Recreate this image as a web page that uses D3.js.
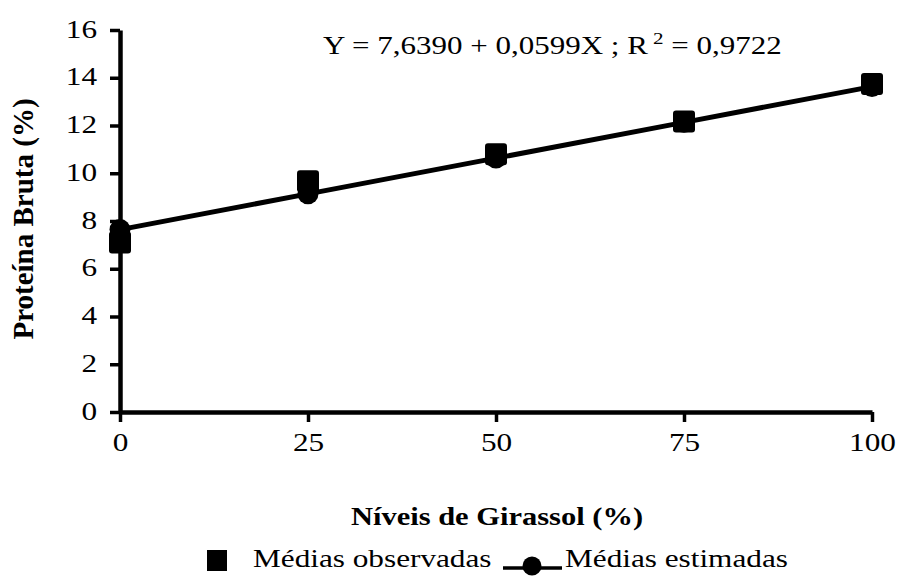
<!DOCTYPE html>
<html>
<head>
<meta charset="utf-8">
<script src="https://cdn.jsdelivr.net/npm/d3@7"></script>
<style>
  body { margin: 0; background: #fff; }
  svg text { font-family: "Liberation Serif", "DejaVu Serif", serif !important; fill: #000; }
</style>
</head>
<body>
<div id="chart"></div>
<script>
// data
var niveis = [0, 25, 50, 75, 100];
var observadas = [7.1, 9.67, 10.8, 12.17, 13.74];
var estimadas = [7.639, 9.137, 10.634, 12.132, 13.629];
var yTicks = [0, 2, 4, 6, 8, 10, 12, 14, 16];
var xTicks = [0, 25, 50, 75, 100];

var width = 900, height = 581;
var sx = 1.25; // the scanned figure is stretched sideways

var svg = d3.select('#chart').append('svg')
    .attr('width', width)
    .attr('height', height);

var x = d3.scaleLinear().domain([0, 100]).range([120, 872]);
var y = d3.scaleLinear().domain([0, 16]).range([412, 30]);

//axes
var yAxis = svg.append('g')
    .attr('transform', 'translate(' + x(0) + ',0)')
    .call(d3.axisLeft(y).tickValues(yTicks).tickSize(10).tickSizeOuter(0));

var xAxis = svg.append('g')
    .attr('transform', 'translate(0,' + y(0) + ')')
    .call(d3.axisBottom(x).tickValues(xTicks).tickSize(10).tickSizeOuter(0).tickPadding(11));

[yAxis, xAxis].forEach(function(a) {
    a.select('.domain').attr('stroke', '#000').attr('stroke-width', 4.5);
    a.selectAll('.tick line').attr('stroke', '#000').attr('stroke-width', 3.5);
    a.selectAll('.tick text')
        .style('font-size', '25px')
        .attr('fill', '#000')
        .attr('transform', 'scale(' + sx + ',1)');
});
// right edge of y labels at about 23px left of the axis
yAxis.selectAll('.tick text').attr('x', -23 / sx).attr('dy', '0.28em');

//regression line
var line = d3.line()
    .x(function(d, i) { return x(niveis[i]); })
    .y(function(d) { return y(d); });

svg.append('path')
    .datum(estimadas)
    .attr('d', line)
    .attr('fill', 'none')
    .attr('stroke', '#000')
    .attr('stroke-width', 5);

svg.selectAll('.est')
    .data(estimadas)
    .enter()
    .append('circle')
    .attr('class', 'est')
    .attr('cx', function(d, i) { return x(niveis[i]); })
    .attr('cy', function(d) { return y(d); })
    .attr('r', 10.5)
    .attr('fill', '#000');

var sq = 22;
svg.selectAll('.obs')
    .data(observadas)
    .enter()
    .append('rect')
    .attr('class', 'obs')
    .attr('x', function(d, i) { return x(niveis[i]) - sq / 2; })
    .attr('y', function(d) { return y(d) - sq / 2; })
    .attr('width', sq)
    .attr('height', sq)
    .attr('rx', 3)
    .attr('fill', '#000');

//equation
var eq = svg.append('text')
    .attr('transform', 'translate(323,54) scale(' + (sx - 0.01) + ',1)')
    .style('font-size', '25px');
eq.append('tspan').text('Y = 7,6390 + 0,0599X ; R');
eq.append('tspan').attr('dy', -10).style('font-size', '17px').text(' 2');
eq.append('tspan').attr('dy', 10).text(' = 0,9722');

//axis titles
svg.append('text')
    .attr('transform', 'translate(33,219) rotate(-90)')
    .attr('text-anchor', 'middle')
    .style('font-size', '29px')
    .style('font-weight', 'bold')
    .text('Proteína Bruta (%)');

svg.append('text')
    .attr('transform', 'translate(497,525) scale(1.22,1)')
    .attr('text-anchor', 'middle')
    .style('font-size', '25px')
    .style('font-weight', 'bold')
    .text('Níveis de Girassol (%)');

//legend
svg.append('rect')
    .attr('x', 207).attr('y', 550)
    .attr('width', 20).attr('height', 21)
    .attr('fill', '#000');
svg.append('text')
    .attr('transform', 'translate(253,567) scale(' + sx + ',1)')
    .style('font-size', '25px')
    .text('Médias observadas');
svg.append('line')
    .attr('x1', 503).attr('x2', 562)
    .attr('y1', 568).attr('y2', 568)
    .attr('stroke', '#000').attr('stroke-width', 3.5);
svg.append('circle')
    .attr('cx', 532).attr('cy', 566).attr('r', 9.5)
    .attr('fill', '#000');
svg.append('text')
    .attr('transform', 'translate(565,567) scale(' + sx + ',1)')
    .style('font-size', '25px')
    .text('Médias estimadas');
</script>
</body>
</html>
